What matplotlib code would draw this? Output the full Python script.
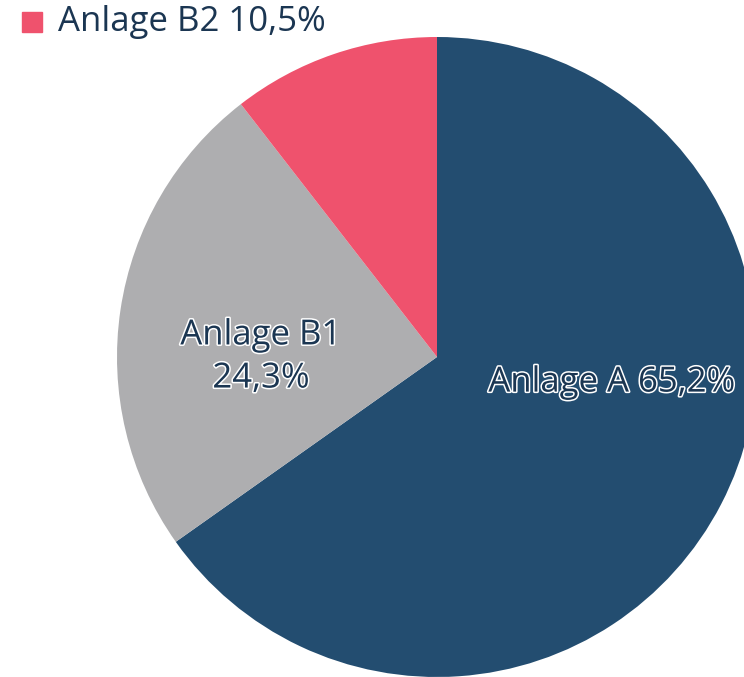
import matplotlib
matplotlib.use("Agg")
import matplotlib.pyplot as plt
import matplotlib.patheffects as pe
from matplotlib.patches import Rectangle

labels = ["Anlage A", "Anlage B1", "Anlage B2"]
values = [65.2, 24.3, 10.5]
colors = ["#234D70", "#AEAEB0", "#EF526D"]
label_texts = ["Anlage A 65,2%", "Anlage B1\n24,3%", None]
# label offsets relative to pie centre, in units of radius
label_offsets = [(0.547, -0.08), (-0.55, 0.0), None]

W, H = 744, 677
fig = plt.figure(figsize=(W / 100, H / 100), dpi=100)
ax = fig.add_axes([0, 0, 1, 1])

cx, cy, r = 437, H - 357, 320
ax.pie(values, colors=colors, startangle=90, counterclock=False,
       center=(cx, cy), radius=r, wedgeprops=dict(linewidth=0),
       frame=True)
ax.set_xlim(0, W)
ax.set_ylim(0, H)
ax.set_aspect("equal")
ax.axis("off")

font = "Open Sans"
txtcol = "#1B3652"
for t, off in zip(label_texts, label_offsets):
    if t is None:
        continue
    ax.text(cx + off[0] * r, cy + off[1] * r, t, ha="center", va="center",
            fontsize=25, family=font, color=txtcol, linespacing=1.35,
            path_effects=[pe.withStroke(linewidth=2.2, foreground="white")])

# legend (only last entry visible)
ax.add_patch(Rectangle((22, H - 32), 20, 20, color=colors[2], clip_on=False))
ax.text(58, H - 22, f"{labels[2]} 10,5%", ha="left", va="center",
        fontsize=25, family=font, color=txtcol)

fig.savefig("out.png", dpi=100)
